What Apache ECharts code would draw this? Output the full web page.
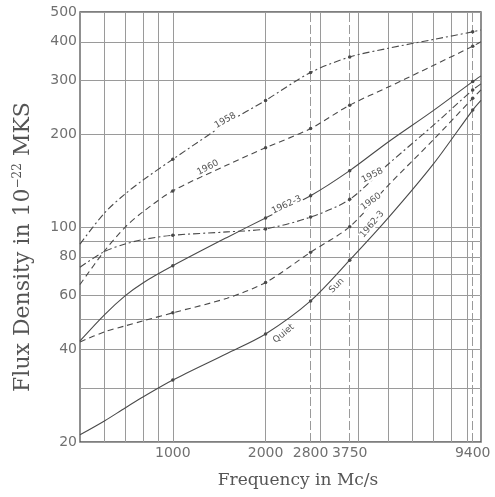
<!DOCTYPE html>
<html>
<head>
<meta charset="utf-8">
<script src="https://cdn.jsdelivr.net/npm/echarts@6/dist/echarts.min.js"></script>
<style>
html,body{margin:0;padding:0;background:#fff;}
#chart{width:495px;height:497px;}
</style>
</head>
<body>
<div id="chart"></div>
<script>
// Frequencies (Mc/s) at which each curve is sampled
const frequencies = [500, 600, 700, 800, 1000, 1500, 2000, 2800, 3750, 5000, 7000, 9400, 10000];
// Observing frequencies, marked with a dot on every curve
const observedFrequencies = [1000, 2000, 2800, 3750, 9400];

// Solar flux density, 10^-22 MKS
const flux1958Upper = [88, 111, 128, 142, 166, 218, 258, 318, 357, 381, 407, 431, 437];
const flux1960Upper = [65, 83.5, 99.8, 112, 131, 159, 181, 209, 249, 285, 335, 387, 400];
const flux1962Mid   = [42.6, 51.8, 59.7, 65.8, 74.8, 92.5, 107, 126.4, 152.5, 189, 239, 297, 310];
const flux1958Lower = [74, 83.2, 88, 91, 94, 96.4, 98.6, 107.7, 123, 160, 214, 279, 292];
const flux1960Lower = [42.3, 45.6, 47.7, 49.5, 52.6, 58.7, 66, 82.8, 100.2, 136.6, 192, 262, 279];
const fluxQuietSun  = [21.1, 23.4, 25.8, 28.0, 31.8, 38.8, 44.9, 57.5, 78, 107, 160, 240, 258];

// Grid and tick values
const xGridValues = [600, 700, 800, 900, 1000, 2000, 3000, 4000, 5000, 6000, 7000, 8000, 9000];
const xLabelValues = [1000, 2000, 2800, 3750, 9400];
const xDashedValues = [2800, 3750, 9400];
const yGridValues = [20, 30, 40, 50, 60, 70, 80, 90, 100, 200, 300, 400, 500];
const yLabelValues = [20, 40, 60, 80, 100, 200, 300, 400, 500];

const INK = '#4a4a4a';
const GRID = '#9a9a9a';
const TICK_FONT = { fontFamily: 'DejaVu Sans', fontSize: 14, color: '#707070' };

const DASH_DOT = [7, 3, 2, 3];
const DASHED = [6, 4];

// Each curve with its dash style and inline caption(s)
const curves = [
  { name: '1958 (a)', values: flux1958Upper, dash: DASH_DOT,
    tags: [{ text: '1958', at: [1480, 222], rotate: 30 }] },
  { name: '1960 (a)', values: flux1960Upper, dash: DASHED,
    tags: [{ text: '1960', at: [1300, 156], rotate: 27 }] },
  { name: '1962-3 (a)', values: flux1962Mid, dash: 'solid',
    tags: [{ text: '1962-3', at: [2340, 118], rotate: 25 }] },
  { name: '1958 (b)', values: flux1958Lower, dash: DASH_DOT,
    tags: [{ text: '1958', at: [4440, 147], rotate: 27 }] },
  { name: '1960 (b)', values: flux1960Lower, dash: DASHED,
    tags: [{ text: '1960', at: [4400, 121], rotate: 36 }] },
  { name: 'Quiet Sun', values: fluxQuietSun, dash: 'solid',
    tags: [
      { text: '1962-3', at: [4430, 102], rotate: 50 },
      { text: 'Quiet', at: [2290, 45], rotate: 40 },
      { text: 'Sun', at: [3400, 64.5], rotate: 45 }
    ] }
];

function gridLines() {
  const lines = [];
  xGridValues.forEach(v => lines.push({
    xAxis: v,
    lineStyle: { type: 'solid' },
    label: { show: xLabelValues.includes(v), formatter: String(v) }
  }));
  xDashedValues.forEach(v => lines.push({
    xAxis: v,
    lineStyle: { type: [9, 3] },
    label: { show: xLabelValues.includes(v), formatter: String(v) }
  }));
  yGridValues.forEach(v => lines.push({
    yAxis: v,
    lineStyle: { type: 'solid' },
    label: { show: yLabelValues.includes(v), formatter: String(v), position: 'start', distance: 3 }
  }));
  return lines;
}

const series = curves.map((c, i) => ({
  type: 'line',
  name: c.name,
  data: frequencies.map((f, k) => [f, c.values[k]]),
  smooth: 0.3,
  showSymbol: true,
  symbol: 'circle',
  symbolSize: v => observedFrequencies.includes(v[0]) ? 3.5 : 0,
  itemStyle: { color: INK },
  lineStyle: { color: INK, width: 1.1, type: c.dash },
  z: 3,
  silent: true,
  markPoint: {
    symbol: 'circle',
    symbolSize: 0,
    silent: true,
    data: c.tags.map(t => ({
      coord: t.at,
      label: {
        show: true, formatter: t.text, rotate: t.rotate, position: 'inside',
        fontFamily: 'DejaVu Sans', fontSize: 9, color: '#555',
        backgroundColor: '#fff', padding: [0, 1]
      }
    }))
  },
  markLine: i === 0 ? {
    silent: true,
    symbol: ['none', 'none'],
    z: 1,
    lineStyle: { color: GRID, width: 1 },
    label: Object.assign({ position: 'start', distance: 4 }, TICK_FONT),
    data: gridLines()
  } : undefined
}));

const chart = echarts.init(document.getElementById('chart'), null, { renderer: 'canvas' });
chart.setOption({
  animation: false,
  backgroundColor: '#fff',
  grid: {
    left: 80, right: 14, top: 12, bottom: 55,
    show: true, borderColor: '#555', borderWidth: 1.3, backgroundColor: 'transparent'
  },
  xAxis: {
    type: 'log', logBase: 10, min: 500, max: 10000,
    axisLine: { show: false }, axisTick: { show: false },
    axisLabel: { show: false }, splitLine: { show: false }
  },
  yAxis: {
    type: 'log', logBase: 10, min: 20, max: 500,
    axisLine: { show: false }, axisTick: { show: false },
    axisLabel: { show: false }, splitLine: { show: false }
  },
  series: series,
  graphic: [
    {
      type: 'text', x: 298, y: 481,
      style: {
        text: 'Frequency in Mc/s',
        font: '17px "DejaVu Serif"', fill: '#555',
        textAlign: 'center', textVerticalAlign: 'middle'
      }
    },
    {
      type: 'text', x: 23, y: 247, rotation: Math.PI / 2,
      style: {
        text: '{t|Flux Density in 10}{s|−22}{t| MKS}',
        textAlign: 'center', textVerticalAlign: 'middle',
        rich: {
          t: { font: '22px "DejaVu Serif"', fill: '#555' },
          s: { font: '12px "DejaVu Serif"', fill: '#555', verticalAlign: 'top', padding: [0, 0, 9, 0] }
        }
      }
    }
  ]
});
</script>
</body>
</html>
